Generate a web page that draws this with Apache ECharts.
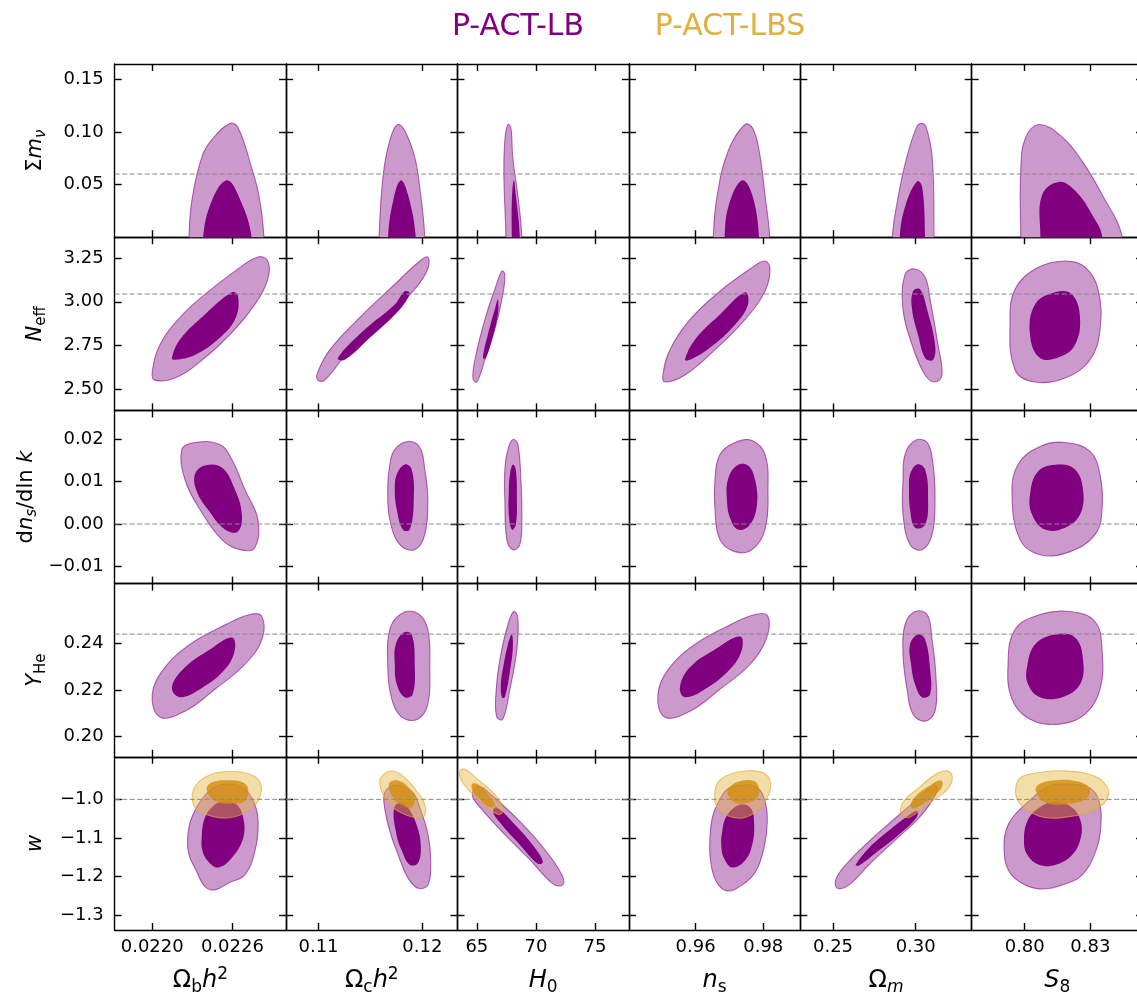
<!DOCTYPE html>
<html>
<head>
<meta charset="utf-8">
<title>P-ACT-LB / P-ACT-LBS</title>
<script src="https://cdn.jsdelivr.net/npm/echarts@6.0.0/dist/echarts.min.js"></script>
<style>
html,body{margin:0;padding:0;background:#ffffff;}
#chart{width:1137px;height:994px;}
</style>
</head>
<body>
<div id="chart"></div>
<script>
// ---------------- categories / labels ----------------
const seriesNames = ['P-ACT-LB', 'P-ACT-LBS'];
const xTitles = ['{u|Ω}{sb|b}{i|h}{sp|2}', '{u|Ω}{sb|c}{i|h}{sp|2}', '{i|H}{sb|0}', '{i|n}{sb|s}', '{u|Ω}{si|m}', '{i|S}{sb|8}'];
const yTitles = ['{u|Σ}{i|m}{si|ν}', '{i|N}{sb|eff}', '{u|d}{i|n}{si|s}{u|/dln }{i|k}', '{i|Y}{sb|He}', '{i|w}'];

// ---------------- tick values / labels ----------------
const xTickValues = [[0.0220, 0.0226], [0.11, 0.12], [65, 70, 75], [0.96, 0.98], [0.25, 0.30], [0.80, 0.83]];
const xTickLabels = [['0.0220', '0.0226'], ['0.11', '0.12'], ['65', '70', '75'], ['0.96', '0.98'], ['0.25', '0.30'], ['0.80', '0.83']];
const yTickValues = [[0.05, 0.10, 0.15], [2.50, 2.75, 3.00, 3.25], [-0.01, 0.00, 0.01, 0.02], [0.20, 0.22, 0.24], [-1.3, -1.2, -1.1, -1.0]];
const yTickLabels = [['0.05', '0.10', '0.15'], ['2.50', '2.75', '3.00', '3.25'], ['\u22120.01', '0.00', '0.01', '0.02'], ['0.20', '0.22', '0.24'], ['\u22121.3', '\u22121.2', '\u22121.1', '\u22121.0']];

// ---------------- axis limits ----------------
const xLimits = [[0.021719, 0.023002], [0.106879, 0.123391], [63.36, 77.88], [0.94027, 0.99095], [0.23023, 0.33386], [0.77577, 0.8541]];
const yLimits = [[0, 0.1644], [2.379, 3.369], [-0.0141, 0.02687], [0.1913, 0.2657], [-1.339, -0.8896]];

// reference (dashed) values per row
const refValues = [0.06, 3.044, 0.0, 0.2440, -1.0];

// ---------------- contours (data units) ----------------
// Row: sum m_nu
const mnuLBOuter = [
  [[0.022275,-0.05],[0.022275,0],[0.022299,0.037],[0.022374,0.077],[0.022449,0.093],[0.022581,0.108],[0.022643,0.104],[0.022744,0.066],[0.022798,0.040],[0.022836,0],[0.022836,-0.05]],
  [[0.11584,-0.05],[0.11584,0],[0.11622,0.058],[0.11687,0.092],[0.11761,0.107],[0.11831,0.101],[0.11927,0.076],[0.11976,0.047],[0.12024,0],[0.12024,-0.05]],
  [[67.46,-0.05],[67.46,0],[67.29,0.058],[67.37,0.092],[67.63,0.107],[67.88,0.104],[68.05,0.075],[68.47,0.040],[68.81,0],[68.81,-0.05]],
  [[0.96521,-0.05],[0.96521,0],[0.96639,0.040],[0.96965,0.082],[0.97459,0.107],[0.97696,0.103],[0.97894,0.079],[0.98051,0.040],[0.9819,0],[0.9819,-0.05]],
  [[0.28588,-0.05],[0.28588,0],[0.2889,0.034],[0.29398,0.072],[0.3004,0.104],[0.30366,0.108],[0.30645,0.104],[0.31008,0.074],[0.3111,0],[0.3111,-0.05]],
  [[0.79817,-0.05],[0.79817,0],[0.79817,0.063],[0.80046,0.095],[0.80686,0.107],[0.81718,0.095],[0.82632,0.072],[0.83546,0.040],[0.8446,0],[0.8446,-0.05]]
];
const mnuLBInner = [
  [[0.022381,-0.05],[0.022381,0],[0.022444,0.034],[0.022557,0.054],[0.022643,0.040],[0.022744,0],[0.022744,-0.05]],
  [[0.11670,-0.05],[0.11670,0],[0.11718,0.034],[0.11793,0.054],[0.11863,0.040],[0.11937,0],[0.11937,-0.05]],
  [[67.96,-0.05],[67.96,0],[67.96,0.034],[68.13,0.054],[68.30,0.040],[68.64,0],[68.64,-0.05]],
  [[0.96858,-0.05],[0.96858,0],[0.96986,0.031],[0.97379,0.054],[0.97675,0.040],[0.97874,0],[0.97874,-0.05]],
  [[0.29035,-0.05],[0.29035,0],[0.29398,0.031],[0.301,0.053],[0.304,0.047],[0.30566,0],[0.30566,-0.05]],
  [[0.80713,-0.05],[0.80713,0],[0.80791,0.040],[0.81568,0.0525],[0.82331,0.0435],[0.83089,0.021],[0.83546,0],[0.83546,-0.05]]
];
// Row: N_eff
const neffLBOuter = [
  [[0.02200,2.598],[0.022058,2.754],[0.022207,2.910],[0.022394,3.042],[0.022619,3.175],[0.022791,3.256],[0.022865,3.233],[0.022865,3.129],[0.022768,2.985],[0.022581,2.812],[0.022357,2.656],[0.02217,2.564],[0.02202,2.552]],
  [[0.10993,2.598],[0.11109,2.725],[0.11398,2.910],[0.11735,3.100],[0.11976,3.233],[0.12053,3.256],[0.12053,3.187],[0.11927,3.071],[0.11638,2.898],[0.11301,2.725],[0.11061,2.552],[0.10993,2.552]],
  [[64.66,2.564],[64.92,2.696],[65.68,2.898],[66.52,3.071],[67.12,3.175],[67.37,3.158],[67.20,3.042],[66.52,2.841],[65.68,2.668],[65.0,2.541]],
  [[0.95032,2.581],[0.95239,2.725],[0.95831,2.898],[0.96719,3.060],[0.97607,3.187],[0.98051,3.233],[0.98199,3.187],[0.98051,3.060],[0.97459,2.898],[0.96571,2.725],[0.95683,2.581],[0.95091,2.541]],
  [[0.29356,3.158],[0.2996,3.187],[0.3057,3.140],[0.3087,3.014],[0.3135,2.754],[0.3159,2.581],[0.3117,2.541],[0.3057,2.581],[0.2978,2.754],[0.29235,2.956]],
  [[0.79328,2.898],[0.79557,3.071],[0.80471,3.187],[0.81842,3.233],[0.82756,3.198],[0.8335,3.071],[0.83441,2.841],[0.82984,2.668],[0.81842,2.564],[0.80471,2.541],[0.79557,2.610]]
];
const neffLBInner = [
  [[0.022147,2.679],[0.022207,2.783],[0.022394,2.927],[0.022596,3.054],[0.022641,3.037],[0.022626,2.910],[0.022506,2.794],[0.022319,2.696],[0.02217,2.668]],
  [[0.11186,2.679],[0.11446,2.841],[0.11735,2.985],[0.11831,3.060],[0.11879,3.048],[0.11783,2.956],[0.11494,2.794],[0.11253,2.668]],
  [[65.51,2.679],[65.93,2.812],[66.52,2.956],[66.78,3.014],[66.78,2.927],[66.27,2.783],[65.76,2.679]],
  [[0.95683,2.668],[0.95979,2.783],[0.96719,2.927],[0.97459,3.054],[0.97548,2.985],[0.97163,2.869],[0.96423,2.737],[0.95831,2.668]],
  [[0.2984,3.060],[0.3026,3.071],[0.3069,2.956],[0.3117,2.754],[0.3105,2.668],[0.3057,2.679],[0.3014,2.812],[0.2978,2.956]],
  [[0.80242,2.812],[0.80471,2.985],[0.81385,3.054],[0.82162,3.042],[0.82527,2.910],[0.82299,2.754],[0.81613,2.685],[0.80699,2.679]]
];
// Row: dn_s/dlnk
const nrunLBOuter = [
  [[0.022222,0.01763],[0.022319,0.01929],[0.022506,0.01882],[0.022596,0.01526],[0.022693,0.00815],[0.022791,0.00104],[0.022768,-0.0056],[0.022656,-0.00607],[0.022521,-0.0037],[0.022357,0.00341],[0.022245,0.01052]],
  [[0.11735,0.01763],[0.1186,0.01953],[0.11976,0.0181],[0.12024,0.01289],[0.12053,0.00578],[0.12024,-0.00252],[0.11927,-0.00607],[0.11783,-0.00489],[0.11687,0.00104],[0.11667,0.00815],[0.11687,0.01407]],
  [[67.63,0.01763],[68.05,0.0200],[68.47,0.01882],[68.73,0.01052],[68.81,0.00104],[68.64,-0.00489],[68.05,-0.00607],[67.54,-0.0037],[67.37,0.00578],[67.37,0.01289]],
  [[0.96719,0.01644],[0.97163,0.01929],[0.97666,0.01976],[0.98051,0.01644],[0.9814,0.00815],[0.98051,-0.00133],[0.97666,-0.00607],[0.97163,-0.00654],[0.96719,-0.0037],[0.96571,0.00341],[0.96571,0.01052]],
  [[0.29356,0.01644],[0.2996,0.01976],[0.3069,0.01929],[0.3105,0.01407],[0.3117,0.00578],[0.3099,-0.00252],[0.30385,-0.00607],[0.29659,-0.00489],[0.29235,0.00222],[0.29235,0.01052]],
  [[0.7942,0.00696],[0.79694,0.01407],[0.80699,0.01834],[0.81842,0.01929],[0.82984,0.01716],[0.83441,0.0117],[0.83533,0.00341],[0.83213,-0.00252],[0.8207,-0.00654],[0.80699,-0.00726],[0.79785,-0.0037]]
];
const nrunLBInner = [
  [[0.022319,0.0117],[0.022394,0.01384],[0.022521,0.01336],[0.022619,0.00815],[0.022671,0.00222],[0.022641,-0.0018],[0.022544,-0.00133],[0.022417,0.00341],[0.022334,0.00768]],
  [[0.11754,0.0117],[0.11831,0.01407],[0.11898,0.01289],[0.11918,0.00578],[0.11879,-0.00133],[0.11812,-0.00133],[0.11754,0.00341],[0.11735,0.00815]],
  [[67.80,0.0117],[68.05,0.01407],[68.30,0.01289],[68.39,0.00578],[68.30,-0.00015],[67.96,-0.00133],[67.71,0.00222],[67.71,0.00815]],
  [[0.96956,0.01052],[0.97222,0.01384],[0.97548,0.01384],[0.97755,0.01052],[0.97814,0.0046],[0.97607,-0.00015],[0.97252,-0.00133],[0.97015,0.00151],[0.96926,0.00578]],
  [[0.29659,0.0117],[0.30082,0.01407],[0.3057,0.01289],[0.30748,0.00578],[0.3057,-0.00015],[0.2996,-0.00086],[0.29659,0.00341],[0.296,0.00815]],
  [[0.80242,0.00696],[0.80608,0.01242],[0.81522,0.01407],[0.82299,0.01289],[0.82664,0.00815],[0.82527,0.00222],[0.81842,-0.00086],[0.80928,-0.00133],[0.80334,0.00222]]
];
// Row: Y_He
const yheLBOuter = [
  [[0.022,0.21817],[0.022095,0.22973],[0.022282,0.23957],[0.022506,0.24685],[0.022731,0.25241],[0.022821,0.25156],[0.022821,0.24171],[0.022693,0.23101],[0.022469,0.22031],[0.022245,0.2109],[0.022058,0.20833]],
  [[0.11687,0.24599],[0.11802,0.25284],[0.11956,0.25284],[0.12053,0.24599],[0.12072,0.22887],[0.12053,0.21389],[0.11956,0.20747],[0.11802,0.20833],[0.11706,0.21603],[0.11667,0.23101]],
  [[66.95,0.23315],[67.63,0.24813],[68.13,0.2537],[68.47,0.25113],[68.39,0.23743],[67.80,0.22031],[67.20,0.20747],[66.69,0.20833],[66.61,0.21817]],
  [[0.94884,0.21817],[0.95239,0.22973],[0.95979,0.23957],[0.96867,0.24685],[0.97755,0.25241],[0.9814,0.25156],[0.98081,0.24171],[0.97607,0.23101],[0.96719,0.22031],[0.95831,0.2109],[0.95091,0.20833]],
  [[0.29356,0.24813],[0.2996,0.2537],[0.3069,0.25241],[0.3099,0.24171],[0.31232,0.22459],[0.3117,0.2109],[0.3057,0.20662],[0.2984,0.20961],[0.29477,0.22031],[0.29235,0.23529]],
  [[0.79237,0.23101],[0.79557,0.24599],[0.80699,0.25241],[0.8207,0.2537],[0.83213,0.24942],[0.83533,0.23743],[0.83441,0.22031],[0.82756,0.20961],[0.81613,0.20533],[0.80242,0.20747],[0.7942,0.21603]]
];
const yheLBInner = [
  [[0.022147,0.22117],[0.022245,0.22973],[0.022432,0.23743],[0.022596,0.24257],[0.022619,0.23743],[0.022544,0.22887],[0.022357,0.22031],[0.022207,0.21689]],
  [[0.11744,0.23957],[0.11821,0.24471],[0.11898,0.24385],[0.11927,0.23101],[0.11908,0.21817],[0.11831,0.21689],[0.11754,0.22245],[0.11735,0.23101]],
  [[67.20,0.22887],[67.63,0.23957],[67.96,0.24385],[68.05,0.23829],[67.80,0.22802],[67.37,0.21689],[67.12,0.21689],[67.03,0.22245]],
  [[0.95535,0.22117],[0.95831,0.22973],[0.96571,0.23743],[0.97311,0.243],[0.9737,0.23743],[0.97015,0.22887],[0.96275,0.22031],[0.95683,0.21689]],
  [[0.29659,0.23957],[0.3014,0.24385],[0.3057,0.24171],[0.3087,0.22887],[0.3087,0.21817],[0.30385,0.21689],[0.2996,0.22245],[0.29719,0.23101]],
  [[0.80105,0.22973],[0.80471,0.23957],[0.81385,0.24385],[0.82299,0.24257],[0.82664,0.23315],[0.82527,0.22245],[0.81705,0.21689],[0.80699,0.21689],[0.80151,0.22245]]
];
// Row: w
const wLBOuter = [
  [[0.022275,-1.1436],[0.022265,-1.1],[0.022295,-1.0478],[0.022381,-0.9956],[0.022482,-0.9653],[0.022594,-0.9608],[0.022693,-0.9739],[0.022768,-1.0131],[0.022793,-1.0653],[0.022768,-1.1349],[0.022693,-1.1958],[0.022568,-1.2174],[0.022469,-1.2349],[0.022394,-1.2263],[0.022332,-1.1871]],
  [[0.11638,-0.9825],[0.11703,-0.9653],[0.11799,-0.9653],[0.11911,-0.9825],[0.11976,-1.0217],[0.12055,-1.0914],[0.12081,-1.161],[0.12055,-1.2219],[0.11959,-1.2305],[0.11863,-1.2044],[0.11767,-1.1436],[0.11687,-1.0827],[0.11632,-1.0131]],
  [[64.75,-0.9739],[65.25,-0.9661],[66.27,-0.9896],[68.64,-1.0574],[70.76,-1.1305],[72.2,-1.1958],[72.28,-1.2219],[71.44,-1.2192],[69.49,-1.1566],[67.37,-1.0914],[65.42,-1.0261],[64.66,-0.9948]],
  [[0.96491,-1.0478],[0.96639,-1.0131],[0.96935,-0.9739],[0.97379,-0.9627],[0.97823,-0.9695],[0.98051,-1.0044],[0.98119,-1.0566],[0.98022,-1.1261],[0.97776,-1.1871],[0.97379,-1.2219],[0.96935,-1.2375],[0.9661,-1.2132],[0.96444,-1.161],[0.96423,-1.1]],
  [[0.25163,-1.2088],[0.25768,-1.1697],[0.27178,-1.1088],[0.28793,-1.0478],[0.30203,-0.9956],[0.31008,-0.9653],[0.3131,-0.9695],[0.3111,-0.9956],[0.30203,-1.0478],[0.28793,-1.1044],[0.27178,-1.1697],[0.25968,-1.2219],[0.2526,-1.2305]],
  [[0.79132,-1.0827],[0.79433,-1.0478],[0.80197,-1.0044],[0.8111,-0.9653],[0.82025,-0.9608],[0.82939,-0.9695],[0.83396,-1.0044],[0.83473,-1.0739],[0.83245,-1.1349],[0.82632,-1.1958],[0.81718,-1.2219],[0.80654,-1.2323],[0.7974,-1.2132],[0.79205,-1.1783],[0.79054,-1.1261]]
];
const wLBInner = [
  [[0.02237,-1.1],[0.022394,-1.0478],[0.022469,-1.0131],[0.022544,-1.006],[0.022631,-1.0131],[0.022681,-1.0478],[0.022681,-1.1],[0.022594,-1.1522],[0.022494,-1.1767],[0.022419,-1.161],[0.022377,-1.1349]],
  [[0.11728,-1.0217],[0.11799,-1.0086],[0.11863,-1.0217],[0.11944,-1.0653],[0.11985,-1.1175],[0.11959,-1.1652],[0.11879,-1.1697],[0.11805,-1.1349],[0.11751,-1.0914]],
  [[66.69,-1.0209],[68.22,-1.0653],[69.91,-1.1253],[70.59,-1.1618],[70.17,-1.167],[68.64,-1.1175],[66.95,-1.06],[66.36,-1.0313]],
  [[0.96787,-1.0827],[0.96888,-1.0478],[0.97134,-1.0217],[0.9743,-1.0131],[0.97658,-1.0261],[0.97726,-1.0566],[0.97696,-1.1088],[0.9748,-1.1566],[0.97083,-1.1767],[0.96838,-1.1522],[0.96758,-1.1175]],
  [[0.26373,-1.1697],[0.27178,-1.1261],[0.28588,-1.0739],[0.29798,-1.0347],[0.301,-1.0305],[0.3004,-1.0478],[0.28993,-1.0914],[0.27583,-1.1391],[0.26573,-1.1716]],
  [[0.79968,-1.1088],[0.80119,-1.0566],[0.80654,-1.0217],[0.81417,-1.006],[0.82175,-1.0217],[0.82559,-1.0566],[0.82559,-1.1],[0.82175,-1.1436],[0.81417,-1.1697],[0.80654,-1.1697],[0.80119,-1.1436]]
];
const wLBSOuter = [
  [[0.022299,-0.9956],[0.022332,-0.9608],[0.022444,-0.9348],[0.022594,-0.9277],[0.022744,-0.9366],[0.022813,-0.9608],[0.022798,-1.0],[0.022718,-1.0305],[0.022581,-1.0478],[0.022444,-1.0436],[0.022332,-1.0261]],
  [[0.1159,-0.9522],[0.11655,-0.9303],[0.11735,-0.9277],[0.11831,-0.9434],[0.11944,-0.9783],[0.12024,-1.0131],[0.12017,-1.0436],[0.11944,-1.0478],[0.11831,-1.0392],[0.11718,-1.0217],[0.11638,-0.9956]],
  [[63.56,-0.9269],[63.98,-0.9217],[65.25,-0.953],[66.52,-0.987],[67.20,-1.0209],[66.95,-1.0392],[66.10,-1.0261],[64.83,-0.9922],[63.73,-0.953]],
  [[0.96571,-0.9783],[0.9674,-0.9478],[0.97184,-0.9303],[0.97675,-0.9261],[0.98072,-0.9348],[0.9822,-0.9608],[0.98119,-0.9956],[0.97874,-1.0261],[0.9743,-1.0478],[0.96986,-1.0436],[0.96639,-1.0217]],
  [[0.29096,-1.0347],[0.29296,-1.0044],[0.30203,-0.9695],[0.31213,-0.9348],[0.31915,-0.9261],[0.32218,-0.9434],[0.31915,-0.9739],[0.31008,-1.0044],[0.30203,-1.0305],[0.29495,-1.0478]],
  [[0.79589,-0.9695],[0.79817,-0.9434],[0.80654,-0.9303],[0.81718,-0.9261],[0.82939,-0.9348],[0.83624,-0.9564],[0.83821,-0.9914],[0.83245,-1.0261],[0.82175,-1.0436],[0.8096,-1.0478],[0.80046,-1.0261],[0.79662,-1.0]]
];
const wLBSInner = [
  [[0.022407,-0.9739],[0.022444,-0.9564],[0.022568,-0.9504],[0.022681,-0.9564],[0.022718,-0.9739],[0.022693,-1.0044],[0.022594,-1.0112],[0.022469,-1.0044]],
  [[0.11677,-0.9608],[0.11735,-0.9504],[0.11815,-0.9564],[0.11879,-0.9739],[0.11927,-0.9956],[0.11896,-1.0217],[0.11799,-1.0149],[0.11718,-0.9956]],
  [[64.58,-0.9608],[65.08,-0.9608],[66.10,-0.9922],[66.52,-1.0157],[66.10,-1.0209],[65.25,-1.0],[64.66,-0.9791]],
  [[0.96935,-0.9825],[0.97036,-0.9653],[0.97332,-0.9522],[0.97726,-0.9522],[0.97874,-0.9695],[0.97823,-0.9956],[0.97527,-1.0086],[0.97163,-1.0086]],
  [[0.29701,-1.0131],[0.30003,-0.9914],[0.30808,-0.9653],[0.31516,-0.9504],[0.31613,-0.9653],[0.31213,-0.987],[0.304,-1.0131],[0.29798,-1.0235]],
  [[0.80503,-0.9783],[0.80654,-0.9608],[0.81417,-0.9504],[0.82331,-0.9522],[0.82939,-0.9695],[0.82861,-0.9956],[0.82025,-1.0112],[0.8096,-1.0086]]
];

const LB_OUTER = [mnuLBOuter, neffLBOuter, nrunLBOuter, yheLBOuter, wLBOuter];
const LB_INNER = [mnuLBInner, neffLBInner, nrunLBInner, yheLBInner, wLBInner];
const LBS_OUTER = [null, null, null, null, wLBSOuter];
const LBS_INNER = [null, null, null, null, wLBSInner];

// ---------------- layout & style ----------------
const FONT = 'DejaVu Sans';
const GRID_LEFT = 114.7, COL_W = 171.4, GRID_TOP = 64, ROW_H = 173.2;
const NROW = 5, NCOL = 6;
const STYLE = {
  lbOuter: { fill: '#CC99CC', stroke: 'rgba(128,0,128,0.55)', lineWidth: 1.1 },
  lbInner: { fill: '#800080', stroke: null, lineWidth: 0 },
  lbsOuter: { fill: 'rgba(228,182,66,0.45)', stroke: 'rgba(222,170,50,0.65)', lineWidth: 1.1 },
  lbsInner: { fill: 'rgba(210,143,15,0.82)', stroke: null, lineWidth: 0 }
};

function lookup(v, ticks, labels) {
  for (let i = 0; i < ticks.length; i++) {
    if (Math.abs(v - ticks[i]) <= Math.abs(ticks[i]) * 1e-6 + 1e-9) return labels[i];
  }
  return '';
}

function makeAxis(gi, pos, lim, ticks, labels, showLabels, margin) {
  return {
    type: 'value', gridIndex: gi, position: pos, min: lim[0], max: lim[1],
    axisLine: { show: true, onZero: false, lineStyle: { color: '#000', width: 1.4 } },
    axisTick: { show: true, inside: true, length: 7, lineStyle: { color: '#000', width: 1.4 }, customValues: ticks },
    axisLabel: {
      show: showLabels, customValues: ticks, margin: margin, fontSize: 18, fontFamily: FONT, color: '#000',
      hideOverlap: false, formatter: (v) => lookup(v, ticks, labels)
    },
    splitLine: { show: false }, splitArea: { show: false }
  };
}

function makeRenderer(layers) {
  return function (params, api) {
    const children = [];
    layers.forEach(function (l) {
      if (!l.pts) return;
      children.push({
        type: 'polygon',
        shape: { points: l.pts.map(function (p) { return api.coord(p); }), smooth: 0.4 },
        style: { fill: l.st.fill, stroke: l.st.stroke, lineWidth: l.st.lineWidth }
      });
    });
    return { type: 'group', children: children };
  };
}

const grids = [], xAxes = [], yAxes = [], series = [];
for (let r = 0; r < NROW; r++) {
  for (let c = 0; c < NCOL; c++) {
    const gi = r * NCOL + c;
    grids.push({ left: GRID_LEFT + c * COL_W, top: GRID_TOP + r * ROW_H, width: COL_W, height: ROW_H, containLabel: false, outerBoundsMode: 'none' });
    xAxes.push(makeAxis(gi, 'bottom', xLimits[c], xTickValues[c], xTickLabels[c], r === NROW - 1, 8));
    xAxes.push(makeAxis(gi, 'top', xLimits[c], xTickValues[c], xTickLabels[c], false, 8));
    yAxes.push(makeAxis(gi, 'left', yLimits[r], yTickValues[r], yTickLabels[r], c === 0, 11));
    yAxes.push(makeAxis(gi, 'right', yLimits[r], yTickValues[r], yTickLabels[r], false, 11));
    const layers = [
      { pts: LB_OUTER[r][c], st: STYLE.lbOuter },
      { pts: LB_INNER[r][c], st: STYLE.lbInner },
      { pts: LBS_OUTER[r] ? LBS_OUTER[r][c] : null, st: STYLE.lbsOuter },
      { pts: LBS_INNER[r] ? LBS_INNER[r][c] : null, st: STYLE.lbsInner }
    ];
    series.push({
      type: 'custom', name: seriesNames[0], xAxisIndex: 2 * gi, yAxisIndex: 2 * gi,
      clip: true, silent: true, z: 2, data: [[0, 0]], renderItem: makeRenderer(layers)
    });
    series.push({
      type: 'line', xAxisIndex: 2 * gi, yAxisIndex: 2 * gi, silent: true, z: 3,
      symbol: 'none', showSymbol: false,
      data: [[xLimits[c][0], refValues[r]], [xLimits[c][1], refValues[r]]],
      lineStyle: { color: '#8a8a8a', width: 1, type: [5, 2.5] }
    });
  }
}

const richTitle = function (fs, lh, sfs) {
  return {
    u: { fontSize: fs, fontFamily: FONT, lineHeight: lh, fill: '#000' },
    i: { fontSize: fs, fontFamily: FONT, fontStyle: 'italic', lineHeight: lh, fill: '#000' },
    sb: { fontSize: sfs, fontFamily: FONT, lineHeight: sfs, verticalAlign: 'bottom', fill: '#000' },
    si: { fontSize: sfs, fontFamily: FONT, fontStyle: 'italic', lineHeight: sfs, verticalAlign: 'bottom', fill: '#000' },
    sp: { fontSize: sfs, fontFamily: FONT, lineHeight: sfs, verticalAlign: 'top', fill: '#000' }
  };
};

const graphics = [
  { type: 'text', x: 518, y: 27.5, style: { text: seriesNames[0], fill: '#800080', fontSize: 30, fontFamily: FONT, align: 'center', verticalAlign: 'middle' } },
  { type: 'text', x: 730, y: 27.5, style: { text: seriesNames[1], fill: '#E0AF3E', fontSize: 30, fontFamily: FONT, align: 'center', verticalAlign: 'middle' } }
];
const yTitleX = [35.5, 35.5, 26.5, 35.5, 35.5];
for (let c = 0; c < NCOL; c++) {
  graphics.push({ type: 'text', x: GRID_LEFT + (c + 0.5) * COL_W, y: 981,
    style: { text: xTitles[c], rich: richTitle(24, 30, 17), fontSize: 24, fontFamily: FONT, align: 'center', verticalAlign: 'middle' } });
}
for (let r = 0; r < NROW; r++) {
  graphics.push({ type: 'text', x: yTitleX[r], y: GRID_TOP + (r + 0.5) * ROW_H, rotation: Math.PI / 2,
    style: { text: yTitles[r], rich: richTitle(21, 26, 15), fontSize: 21, fontFamily: FONT, align: 'center', verticalAlign: 'middle' } });
}

const chart = echarts.init(document.getElementById('chart'), null, { renderer: 'canvas', width: 1137, height: 994 });
chart.setOption({
  backgroundColor: '#ffffff',
  animation: false,
  grid: grids,
  xAxis: xAxes,
  yAxis: yAxes,
  series: series,
  graphic: graphics
});
</script>
</body>
</html>
